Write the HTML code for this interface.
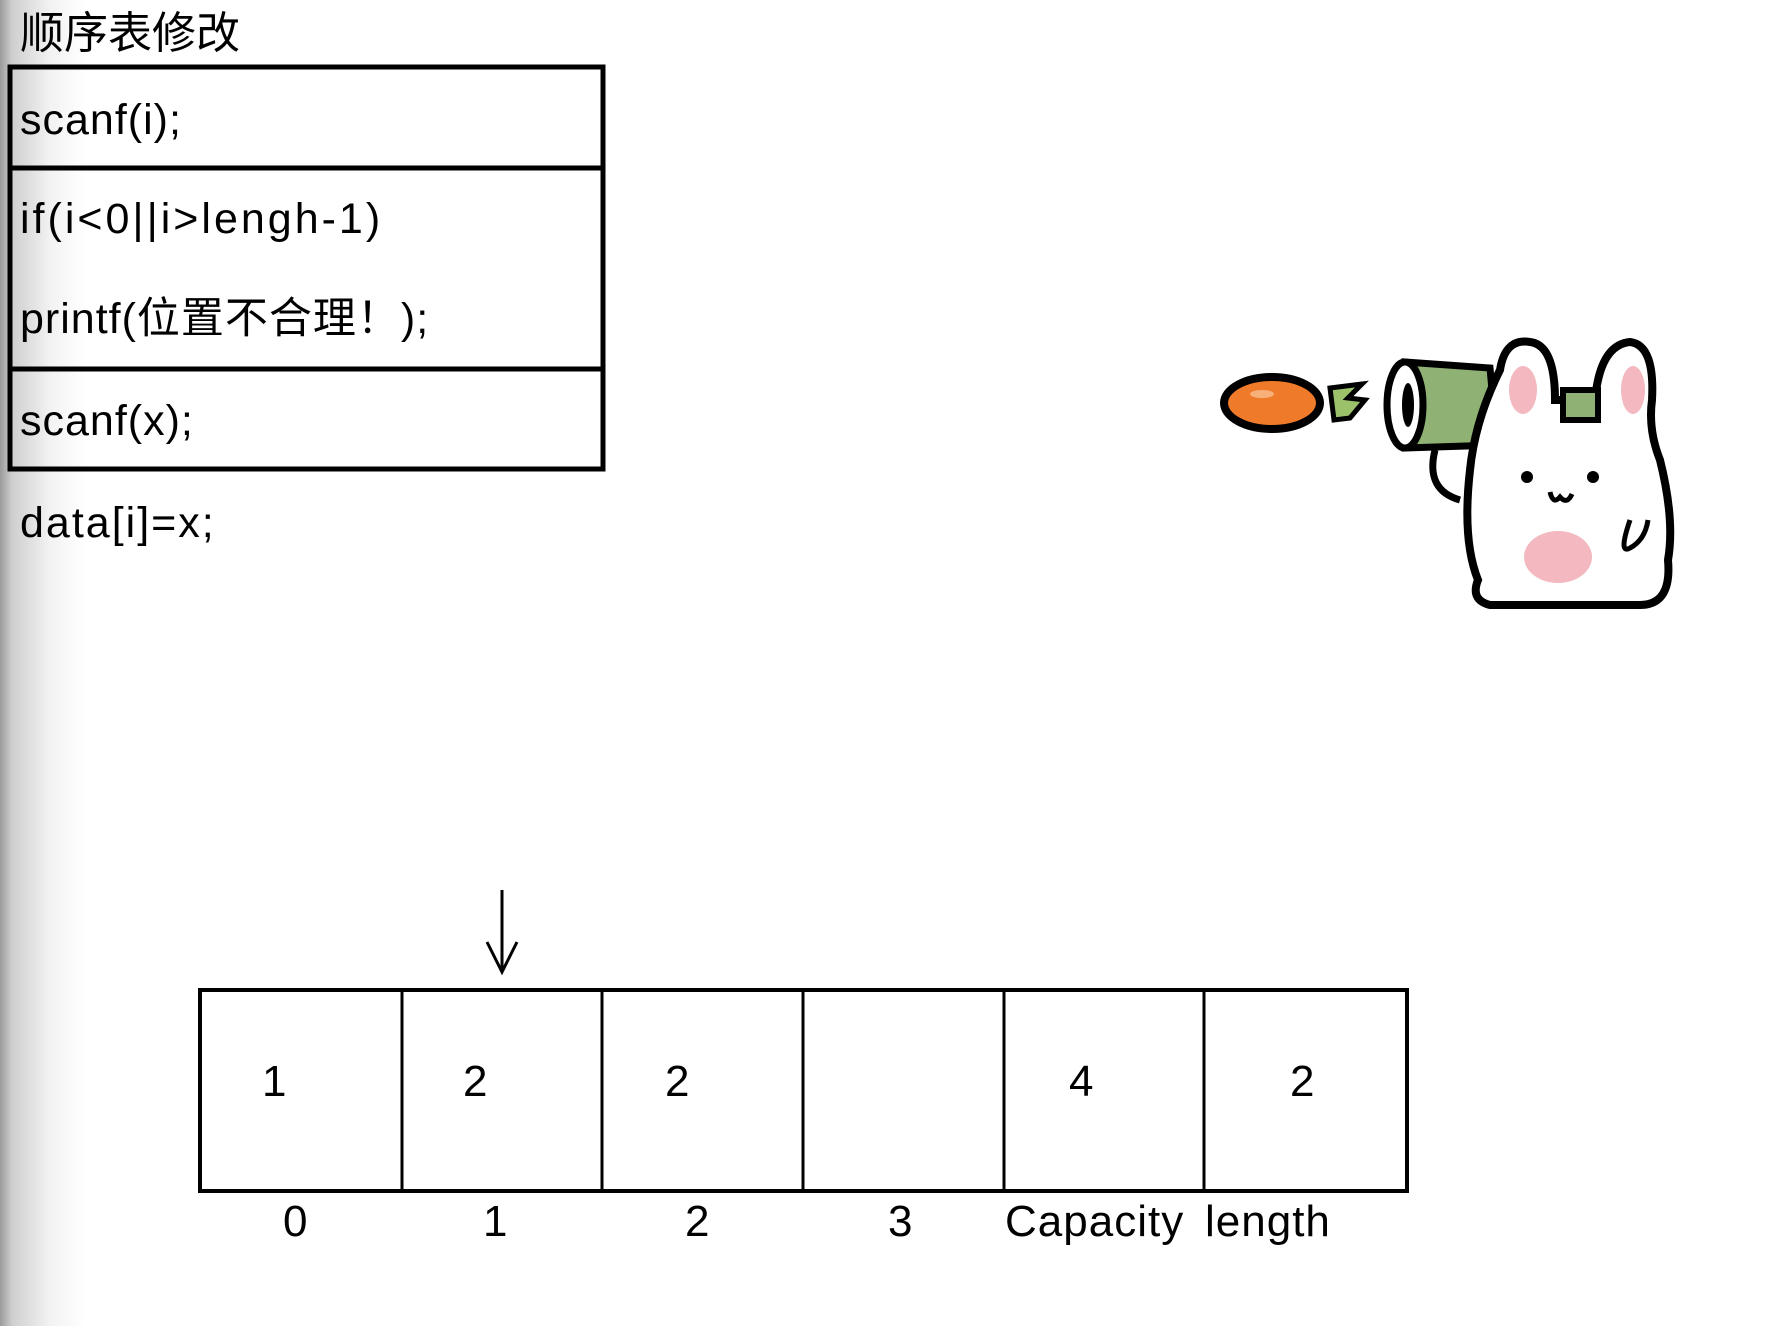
<!DOCTYPE html>
<html><head><meta charset="utf-8"><style>
html,body{margin:0;padding:0;}
body{width:1779px;height:1326px;position:relative;overflow:hidden;background:#fff;font-family:"Liberation Sans","Noto Sans CJK SC",sans-serif;color:#000;}
.shade{position:absolute;left:0;top:0;width:90px;height:1326px;background:linear-gradient(to right,#9a9a9a 0px,#cfcfcf 12px,#f2f2f2 50px,#fff 85px);}
.t{position:absolute;white-space:nowrap;line-height:1;}
</style></head><body>
<div class="shade"></div>
<div class="t" style="left:20px;top:12px;font-size:44px;">顺序表修改</div>
<svg width="1779" height="1326" style="position:absolute;left:0;top:0">
<g fill="none" stroke="#000" stroke-width="5">
<rect x="10" y="67" width="593" height="402"/>
<line x1="10" y1="168" x2="603" y2="168"/>
<line x1="10" y1="369" x2="603" y2="369"/>
<rect x="200" y="990" width="1207" height="201" stroke-width="4"/>
<line x1="402" y1="990" x2="402" y2="1191" stroke-width="3"/>
<line x1="602" y1="990" x2="602" y2="1191" stroke-width="3"/>
<line x1="803" y1="990" x2="803" y2="1191" stroke-width="3"/>
<line x1="1004" y1="990" x2="1004" y2="1191" stroke-width="3"/>
<line x1="1204" y1="990" x2="1204" y2="1191" stroke-width="3"/>
<line x1="502" y1="890" x2="502" y2="971" stroke-width="3"/>
<polyline points="487,942 502,972 517,942" stroke-width="3"/>
</g>
<ellipse cx="1272" cy="403" rx="48" ry="26" fill="#ee7a2a" stroke="#000" stroke-width="8"/>
<ellipse cx="1262" cy="394" rx="12" ry="4" fill="#f8b07a"/>
<path d="M1330 388 L1362 384 L1348 398 L1365 400 L1350 418 L1334 420 Z" fill="#9bc26a" stroke="#000" stroke-width="5"/>
<path d="M1405 362 L1490 368 L1497 445 L1405 448 Z" fill="#8fb173" stroke="#000" stroke-width="7"/>
<ellipse cx="1405" cy="405" rx="18" ry="43" fill="#fff" stroke="#000" stroke-width="7"/>
<ellipse cx="1408" cy="405" rx="6" ry="22" fill="#000"/>
<path d="M1435 450 Q1425 490 1460 500" fill="none" stroke="#000" stroke-width="7"/>
<path d="M1500 370 Q1505 338 1530 342 Q1555 345 1555 400 L1595 400 Q1600 345 1630 342 Q1655 345 1652 400 Q1648 430 1660 460 Q1675 520 1668 560 Q1672 605 1640 605 L1490 605 Q1470 600 1478 580 Q1462 540 1470 470 Q1475 420 1500 370 Z" fill="#fff" stroke="#000" stroke-width="8"/>
<ellipse cx="1523" cy="390" rx="14" ry="24" fill="#f4b8c0"/>
<ellipse cx="1633" cy="390" rx="12" ry="24" fill="#f4b8c0"/>
<rect x="1563" y="390" width="35" height="30" fill="#8fb173" stroke="#000" stroke-width="6"/>
<circle cx="1527" cy="477" r="6" fill="#000"/>
<circle cx="1593" cy="477" r="6" fill="#000"/>
<path d="M1550 492 Q1553 505 1560 497 Q1567 505 1572 494" fill="none" stroke="#000" stroke-width="5"/>
<ellipse cx="1558" cy="557" rx="34" ry="26" fill="#f4b8c0"/>
<path d="M1630 520 Q1618 555 1630 548 Q1645 540 1648 520" fill="none" stroke="#000" stroke-width="5"/>
</svg>
<div class="t" style="left:20px;top:99px;font-size:43px;letter-spacing:1px;">scanf(i);</div>
<div class="t" style="left:20px;top:198px;font-size:43px;letter-spacing:3px;">if(i&lt;0||i&gt;lengh-1)</div>
<div class="t" style="left:20px;top:298px;font-size:43px;letter-spacing:1px;">printf(位置不合理！);</div>
<div class="t" style="left:20px;top:400px;font-size:43px;letter-spacing:1px;">scanf(x);</div>
<div class="t" style="left:20px;top:502px;font-size:43px;letter-spacing:2px;">data[i]=x;</div>
<div class="t" style="left:262px;top:1060px;font-size:44px;">1</div>
<div class="t" style="left:463px;top:1060px;font-size:44px;">2</div>
<div class="t" style="left:665px;top:1060px;font-size:44px;">2</div>
<div class="t" style="left:1069px;top:1060px;font-size:44px;">4</div>
<div class="t" style="left:1290px;top:1060px;font-size:44px;">2</div>
<div class="t" style="left:283px;top:1200px;font-size:44px;">0</div>
<div class="t" style="left:483px;top:1200px;font-size:44px;">1</div>
<div class="t" style="left:685px;top:1200px;font-size:44px;">2</div>
<div class="t" style="left:888px;top:1200px;font-size:44px;">3</div>
<div class="t" style="left:1005px;top:1200px;font-size:44px;letter-spacing:1px;">Capacity</div>
<div class="t" style="left:1205px;top:1200px;font-size:44px;letter-spacing:1px;">length</div>
</body></html>
